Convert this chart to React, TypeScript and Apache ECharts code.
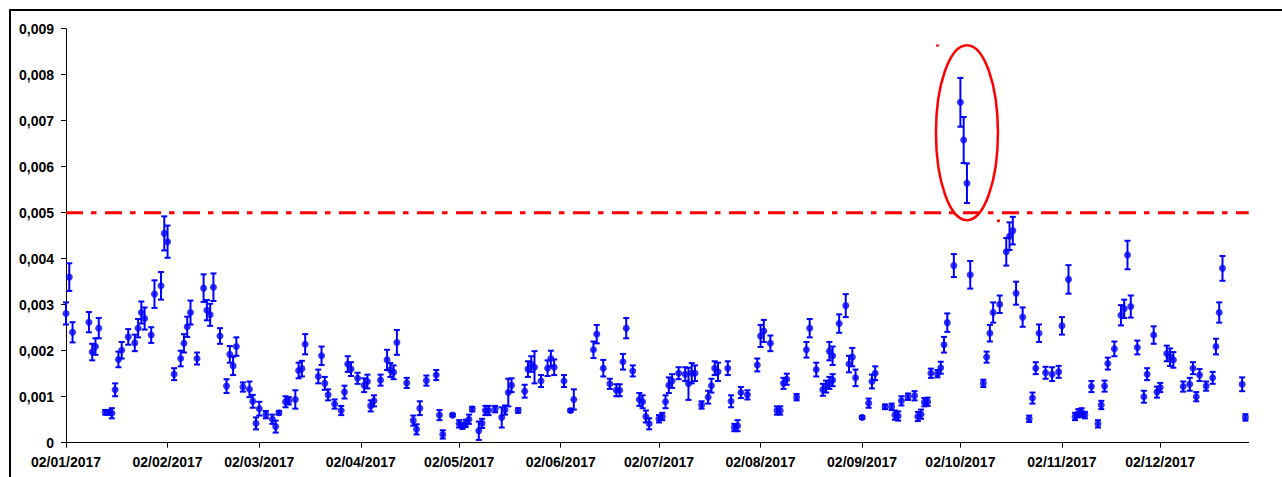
import React, { useEffect, useRef } from "react";
import * as echarts from "echarts";

const dates = [
  "2017-01-02","2017-01-03","2017-01-04","2017-01-09","2017-01-10","2017-01-11","2017-01-12","2017-01-14","2017-01-15","2017-01-16",
  "2017-01-17","2017-01-18","2017-01-19","2017-01-21","2017-01-23","2017-01-24","2017-01-25","2017-01-26","2017-01-28","2017-01-29",
  "2017-01-31","2017-02-01","2017-02-02","2017-02-04","2017-02-06","2017-02-07","2017-02-08","2017-02-09","2017-02-11","2017-02-13",
  "2017-02-14","2017-02-15","2017-02-16","2017-02-18","2017-02-20","2017-02-21","2017-02-22","2017-02-23","2017-02-25","2017-02-27",
  "2017-02-28","2017-03-01","2017-03-02","2017-03-04","2017-03-06","2017-03-07","2017-03-08","2017-03-10","2017-03-11","2017-03-13",
  "2017-03-14","2017-03-15","2017-03-16","2017-03-20","2017-03-21","2017-03-22","2017-03-23","2017-03-25","2017-03-27","2017-03-28",
  "2017-03-29","2017-03-30","2017-04-01","2017-04-03","2017-04-04","2017-04-05","2017-04-06","2017-04-08","2017-04-10","2017-04-11",
  "2017-04-12","2017-04-13","2017-04-16","2017-04-18","2017-04-19","2017-04-20","2017-04-22","2017-04-25","2017-04-26","2017-04-27",
  "2017-04-30","2017-05-02","2017-05-03","2017-05-04","2017-05-05","2017-05-06","2017-05-08","2017-05-09","2017-05-10","2017-05-11",
  "2017-05-13","2017-05-15","2017-05-16","2017-05-17","2017-05-18","2017-05-20","2017-05-22","2017-05-23","2017-05-24","2017-05-25",
  "2017-05-27","2017-05-29","2017-05-30","2017-05-31","2017-06-03","2017-06-05","2017-06-06","2017-06-12","2017-06-13","2017-06-15",
  "2017-06-17","2017-06-19","2017-06-20","2017-06-21","2017-06-22","2017-06-24","2017-06-26","2017-06-27","2017-06-28","2017-06-29",
  "2017-07-02","2017-07-03","2017-07-04","2017-07-05","2017-07-06","2017-07-08","2017-07-10","2017-07-11","2017-07-12","2017-07-13",
  "2017-07-15","2017-07-17","2017-07-18","2017-07-19","2017-07-20","2017-07-23","2017-07-24","2017-07-25","2017-07-26","2017-07-27",
  "2017-07-29","2017-08-01","2017-08-02","2017-08-03","2017-08-05","2017-08-07","2017-08-08","2017-08-09","2017-08-10","2017-08-13",
  "2017-08-16","2017-08-17","2017-08-19","2017-08-21","2017-08-22","2017-08-23","2017-08-23","2017-08-24","2017-08-24","2017-08-26",
  "2017-08-28","2017-08-29","2017-08-30","2017-08-31","2017-09-02","2017-09-04","2017-09-05","2017-09-06","2017-09-09","2017-09-11",
  "2017-09-12","2017-09-13","2017-09-14","2017-09-16","2017-09-18","2017-09-19","2017-09-20","2017-09-21","2017-09-22","2017-09-23",
  "2017-09-25","2017-09-26","2017-09-27","2017-09-28","2017-09-30","2017-10-02","2017-10-03","2017-10-04","2017-10-05","2017-10-09",
  "2017-10-10","2017-10-11","2017-10-12","2017-10-14","2017-10-16","2017-10-17","2017-10-18","2017-10-19","2017-10-21","2017-10-23",
  "2017-10-24","2017-10-25","2017-10-26","2017-10-28","2017-10-30","2017-11-01","2017-11-02","2017-11-04","2017-11-06","2017-11-07",
  "2017-11-08","2017-11-09","2017-11-11","2017-11-13","2017-11-14","2017-11-15","2017-11-16","2017-11-18","2017-11-20","2017-11-21",
  "2017-11-22","2017-11-23","2017-11-25","2017-11-27","2017-11-28","2017-11-30","2017-12-01","2017-12-02","2017-12-04","2017-12-05",
  "2017-12-06","2017-12-09","2017-12-11","2017-12-12","2017-12-13","2017-12-14","2017-12-16","2017-12-18","2017-12-19","2017-12-20",
  "2017-12-21","2017-12-27","2017-12-28"
];

const values = [
  0.00281,0.00360,0.00240,0.00262,0.00197,0.00209,0.00249,0.00066,0.00066,0.00064,
  0.00115,0.00181,0.00201,0.00230,0.00217,0.00249,0.00283,0.00270,0.00234,0.00323,
  0.00341,0.00455,0.00437,0.00149,0.00183,0.00216,0.00252,0.00283,0.00183,0.00336,
  0.00288,0.00278,0.00338,0.00232,0.00123,0.00192,0.00167,0.00209,0.00121,0.00116,
  0.00090,0.00042,0.00074,0.00061,0.00051,0.00035,0.00065,0.00089,0.00091,0.00094,
  0.00157,0.00161,0.00214,0.00144,0.00189,0.00129,0.00104,0.00084,0.00070,0.00110,
  0.00171,0.00160,0.00140,0.00125,0.00133,0.00080,0.00091,0.00136,0.00180,0.00158,
  0.00153,0.00218,0.00130,0.00048,0.00029,0.00075,0.00135,0.00147,0.00060,0.00018,
  0.00060,0.00041,0.00036,0.00042,0.00051,0.00073,0.00026,0.00042,0.00070,0.00070,
  0.00073,0.00055,0.00071,0.00109,0.00125,0.00070,0.00112,0.00160,0.00171,0.00164,
  0.00134,0.00162,0.00183,0.00164,0.00134,0.00070,0.00094,0.00202,0.00236,0.00162,
  0.00128,0.00114,0.00114,0.00176,0.00249,0.00156,0.00094,0.00089,0.00057,0.00041,
  0.00052,0.00057,0.00089,0.00125,0.00134,0.00151,0.00149,0.00128,0.00151,0.00151,
  0.00082,0.00099,0.00124,0.00162,0.00154,0.00162,0.00090,0.00033,0.00037,0.00109,
  0.00104,0.00169,0.00232,0.00243,0.00216,0.00070,0.00070,0.00129,0.00138,0.00099,
  0.00202,0.00249,0.00159,0.00115,0.00122,0.00130,0.00199,0.00136,0.00189,0.00259,
  0.00298,0.00171,0.00186,0.00141,0.00055,0.00086,0.00133,0.00151,0.00078,0.00078,
  0.00060,0.00058,0.00091,0.00100,0.00102,0.00057,0.00062,0.00088,0.00089,0.00151,
  0.00150,0.00163,0.00213,0.00261,0.00385,0.00740,0.00658,0.00564,0.00365,0.00129,
  0.00186,0.00238,0.00283,0.00301,0.00415,0.00449,0.00461,0.00325,0.00273,0.00052,
  0.00097,0.00162,0.00238,0.00152,0.00149,0.00154,0.00254,0.00355,0.00057,0.00064,
  0.00066,0.00060,0.00122,0.00041,0.00082,0.00123,0.00172,0.00204,0.00277,0.00291,
  0.00408,0.00296,0.00207,0.00100,0.00149,0.00234,0.00110,0.00120,0.00194,0.00186,
  0.00180,0.00122,0.00127,0.00162,0.00100,0.00147,0.00123,0.00141,0.00209,0.00283,
  0.00379,0.00127,0.00055
];

const errors = [
  0.00024,0.00030,0.00022,0.00022,0.00018,0.00018,0.00022,0.00005,0.00005,0.00011,
  0.00014,0.00017,0.00018,0.00017,0.00018,0.00020,0.00024,0.00024,0.00017,0.00030,
  0.00030,0.00037,0.00035,0.00013,0.00017,0.00020,0.00022,0.00026,0.00013,0.00030,
  0.00022,0.00024,0.00030,0.00017,0.00015,0.00018,0.00020,0.00020,0.00010,0.00017,
  0.00014,0.00013,0.00015,0.00008,0.00010,0.00013,0.00004,0.00012,0.00008,0.00020,
  0.00017,0.00017,0.00022,0.00015,0.00020,0.00014,0.00012,0.00010,0.00010,0.00014,
  0.00017,0.00015,0.00012,0.00015,0.00015,0.00012,0.00012,0.00012,0.00022,0.00015,
  0.00015,0.00027,0.00011,0.00011,0.00011,0.00015,0.00011,0.00011,0.00011,0.00009,
  0.00003,0.00008,0.00006,0.00008,0.00010,0.00005,0.00020,0.00010,0.00010,0.00010,
  0.00007,0.00022,0.00010,0.00030,0.00015,0.00005,0.00014,0.00017,0.00017,0.00035,
  0.00013,0.00017,0.00017,0.00017,0.00013,0.00003,0.00022,0.00018,0.00020,0.00018,
  0.00011,0.00013,0.00013,0.00017,0.00022,0.00012,0.00014,0.00014,0.00013,0.00012,
  0.00008,0.00008,0.00014,0.00017,0.00015,0.00013,0.00015,0.00035,0.00022,0.00017,
  0.00008,0.00014,0.00015,0.00015,0.00020,0.00015,0.00013,0.00008,0.00012,0.00012,
  0.00010,0.00014,0.00024,0.00024,0.00017,0.00009,0.00009,0.00012,0.00012,0.00007,
  0.00017,0.00020,0.00015,0.00013,0.00013,0.00013,0.00020,0.00013,0.00020,0.00020,
  0.00025,0.00018,0.00020,0.00018,0.00003,0.00010,0.00015,0.00015,0.00005,0.00007,
  0.00010,0.00010,0.00010,0.00007,0.00010,0.00010,0.00010,0.00009,0.00009,0.00010,
  0.00008,0.00013,0.00017,0.00020,0.00025,0.00053,0.00050,0.00043,0.00030,0.00008,
  0.00012,0.00018,0.00022,0.00019,0.00030,0.00030,0.00030,0.00025,0.00021,0.00007,
  0.00012,0.00013,0.00019,0.00013,0.00015,0.00013,0.00019,0.00031,0.00008,0.00009,
  0.00009,0.00007,0.00012,0.00008,0.00009,0.00012,0.00013,0.00016,0.00022,0.00020,
  0.00031,0.00024,0.00015,0.00013,0.00013,0.00019,0.00012,0.00010,0.00017,0.00019,
  0.00017,0.00011,0.00014,0.00013,0.00010,0.00013,0.00010,0.00013,0.00017,0.00022,
  0.00027,0.00015,0.00007
];

const tickDates = [
  "2017-01-02","2017-02-02","2017-03-02","2017-04-02","2017-05-02","2017-06-02",
  "2017-07-02","2017-08-02","2017-09-02","2017-10-02","2017-11-02","2017-12-02"
];
const axisStart = "2017-01-02";
const axisEnd = "2017-12-29";
const yMin = 0;
const yMax = 0.009;
const yInterval = 0.001;
const limitValue = 0.005;
const circledDate = "2017-10-04";
const circledValue = 0.00674;

const ts = (s: string) => Date.parse(s + "T00:00:00Z");
const pad = (n: number) => (n < 10 ? "0" + n : "" + n);
const fmtDate = (v: number) => {
  const d = new Date(v);
  return pad(d.getUTCDate()) + "/" + pad(d.getUTCMonth() + 1) + "/" + d.getUTCFullYear();
};

const FONT = "'Liberation Sans', Arial, sans-serif";
const BLUE = "#0000ff";
const RED = "#ff0000";

export default function App() {
  const ref = useRef<HTMLDivElement | null>(null);

  useEffect(() => {
    if (!ref.current) return;
    const chart = echarts.init(ref.current, null, { renderer: "svg" });
    const pts = dates.map((d, i) => [ts(d), values[i], errors[i]]);
    const ticks = tickDates.map(ts);

    chart.setOption({
      animation: false,
      backgroundColor: "#ffffff",
      grid: { left: 66, top: 28.7, right: 33.3, bottom: 34.3, containLabel: false },
      xAxis: {
        type: "value",
        min: ts(axisStart),
        max: ts(axisEnd),
        axisLine: { show: true, onZero: false, lineStyle: { color: "#000", width: 1 } },
        axisTick: { show: true, customValues: ticks, length: 5, lineStyle: { color: "#000", width: 1 } },
        axisLabel: {
          customValues: ticks,
          formatter: (v: number) => fmtDate(v),
          fontFamily: FONT,
          fontWeight: "bold",
          fontSize: 14,
          color: "#000",
          margin: 12,
        },
        splitLine: { show: false },
      },
      yAxis: {
        type: "value",
        min: yMin,
        max: yMax,
        interval: yInterval,
        axisLine: { show: true, lineStyle: { color: "#000", width: 1 } },
        axisTick: { show: true, length: 5, lineStyle: { color: "#000", width: 1 } },
        axisLabel: {
          formatter: (v: number) => (v === 0 ? "0" : v.toFixed(3).replace(".", ",")),
          fontFamily: FONT,
          fontWeight: "bold",
          fontSize: 14,
          color: "#000",
          margin: 12,
        },
        splitLine: { show: false },
      },
      series: [
        {
          type: "line",
          z: 4,
          silent: true,
          symbol: "none",
          data: [
            [ts(axisStart), limitValue],
            [ts(axisEnd), limitValue],
          ],
          lineStyle: { color: RED, width: 3, type: [17, 8, 5.5, 8.5], cap: "butt" },
        },
        {
          type: "custom",
          z: 2,
          silent: true,
          data: pts,
          encode: { x: 0, y: 1 },
          renderItem: (params: any, api: any) => {
            const x = api.value(0);
            const v = api.value(1);
            const e = api.value(2);
            const top = api.coord([x, v + e]);
            const bot = api.coord([x, v - e]);
            const cw = 3;
            const style = { stroke: BLUE, lineWidth: 2 };
            return {
              type: "group",
              children: [
                { type: "line", shape: { x1: top[0], y1: top[1], x2: bot[0], y2: bot[1] }, style },
                { type: "line", shape: { x1: top[0] - cw, y1: top[1], x2: top[0] + cw, y2: top[1] }, style },
                { type: "line", shape: { x1: bot[0] - cw, y1: bot[1], x2: bot[0] + cw, y2: bot[1] }, style },
              ],
            };
          },
        },
        {
          type: "scatter",
          z: 3,
          symbol: "circle",
          symbolSize: 7,
          itemStyle: { color: BLUE },
          data: pts.map((p) => [p[0], p[1]]),
        },
      ],
    });

    const c = chart.convertToPixel({ gridIndex: 0 }, [ts(circledDate), circledValue]) as number[];
    chart.setOption({
      graphic: [
        {
          type: "rect",
          shape: { x: 10, y: 10, width: 1300, height: 500 },
          style: { fill: "none", stroke: "#000", lineWidth: 2 },
          silent: true,
          z: 0,
        },
        {
          type: "ellipse",
          shape: { cx: c[0], cy: c[1], rx: 31, ry: 87.5 },
          style: { fill: "none", stroke: RED, lineWidth: 2.5 },
          silent: true,
          z: 10,
        },
        {
          type: "rect",
          shape: { x: 936, y: 44.5, width: 3, height: 2 },
          style: { fill: RED },
          silent: true,
          z: 10,
        },
        {
          type: "rect",
          shape: { x: 997, y: 219.5, width: 3, height: 2.5 },
          style: { fill: RED },
          silent: true,
          z: 10,
        },
      ],
    });

    return () => {
      chart.dispose();
    };
  }, []);

  return (
    <div
      ref={ref}
      style={{ position: "fixed", left: 0, top: 0, width: 1282, height: 477, background: "#fff" }}
    />
  );
}
